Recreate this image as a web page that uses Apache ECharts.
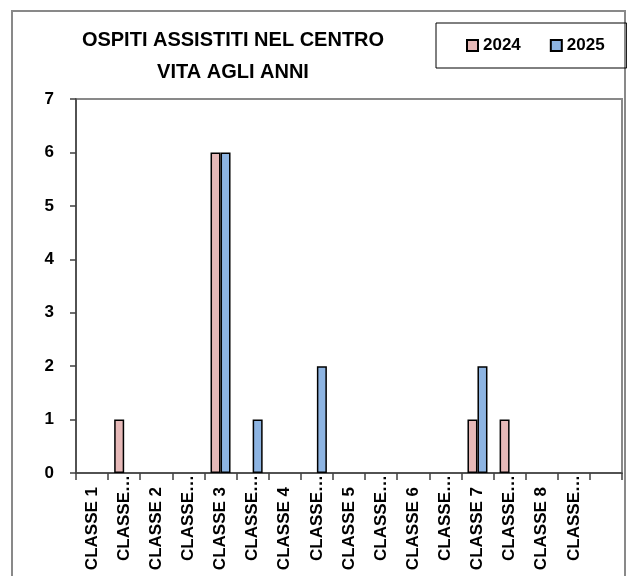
<!DOCTYPE html>
<html>
<head>
<meta charset="utf-8">
<script src="https://cdn.jsdelivr.net/npm/echarts@6/dist/echarts.min.js"></script>
<style>
  html, body { margin: 0; padding: 0; background: #fff; }
  #ospitiChart { width: 627px; height: 576px; }
</style>
</head>
<body>
<div id="ospitiChart"></div>
<script>
// categorie (le etichette troncate sono come nel grafico originale)
const categories = ['CLASSE 1', 'CLASSE…', 'CLASSE 2', 'CLASSE…', 'CLASSE 3', 'CLASSE…', 'CLASSE 4', 'CLASSE…',
  'CLASSE 5', 'CLASSE…', 'CLASSE 6', 'CLASSE…', 'CLASSE 7', 'CLASSE…', 'CLASSE 8', 'CLASSE…', '']
const values2024 = [null, 1, null, null, 6, null, null, null, null, null, null, null, 1, 1, null, null, null]
const values2025 = [null, null, null, null, 6, 1, null, 2, null, null, null, null, 2, null, null, null, null]
const yTicks = [0, 1, 2, 3, 4, 5, 6, 7]

const font = 'Liberation Sans, Arial, sans-serif'
const chart = echarts.init(document.getElementById('ospitiChart'))

const option = {
  animation: false,
  textStyle: { fontFamily: font },
  title: {
    text: 'OSPITI ASSISTITI NEL CENTRO\nVITA AGLI ANNI',
    left: 233,
    top: 24,
    padding: 0,
    textAlign: 'center',
    textStyle: { fontFamily: font, fontSize: 20, fontWeight: 'bold', color: '#000', lineHeight: 32 }
  },
  legend: {
    left: 436,
    top: 23,
    padding: [14, 22, 14, 30],
    borderColor: '#000',
    borderWidth: 1,
    itemWidth: 11,
    itemHeight: 11,
    itemGap: 29,
    icon: 'rect',
    textStyle: { fontFamily: font, fontSize: 17, fontWeight: 'bold', color: '#000' },
    data: ['2024', '2025']
  },
  graphic: [
    {
      // cornice esterna
      type: 'rect',
      shape: { x: 12, y: 11, width: 613, height: 620 },
      style: { fill: null, stroke: '#898989', lineWidth: 2 },
      silent: true
    }
  ],
  grid: {
    left: 76,
    top: 99,
    right: 5,
    bottom: 103,
    outerBoundsMode: 'none',
    show: true,
    borderColor: '#898989',
    borderWidth: 2
  },
  xAxis: {
    type: 'category',
    data: categories,
    boundaryGap: true,
    axisLine: { lineStyle: { color: '#404040', width: 1.5 } },
    axisTick: { show: true, interval: 0, length: 7, lineStyle: { color: '#404040', width: 1.5 } },
    axisLabel: {
      interval: 0,
      rotate: 90,
      margin: 2,
      fontFamily: font,
      fontSize: 17,
      fontWeight: 'bold',
      color: '#000',
      formatter: v => (v.indexOf('…') >= 0 ? v : '{full|' + v + '}'),
      rich: {
        full: { fontFamily: font, fontSize: 17, fontWeight: 'bold', color: '#000', padding: [0, 12, 0, 0] }
      }
    }
  },
  yAxis: {
    type: 'value',
    min: yTicks[0],
    max: yTicks[yTicks.length - 1],
    interval: 1,
    splitLine: { show: false },
    axisLine: { show: true, lineStyle: { color: '#404040', width: 1.5 } },
    axisTick: { show: true, length: 6, lineStyle: { color: '#404040', width: 1.5 } },
    axisLabel: { margin: 22, fontFamily: font, fontSize: 17, fontWeight: 'bold', color: '#000' }
  },
  series: [
    {
      name: '2024',
      type: 'bar',
      data: values2024,
      barWidth: 10,
      barGap: '0%',
      itemStyle: { color: '#E6B9B8', borderColor: '#000', borderWidth: 1.5 }
    },
    {
      name: '2025',
      type: 'bar',
      data: values2025,
      barWidth: 10,
      itemStyle: { color: '#8DB4E2', borderColor: '#000', borderWidth: 1.5 }
    }
  ]
}

chart.setOption(option)
</script>
</body>
</html>
